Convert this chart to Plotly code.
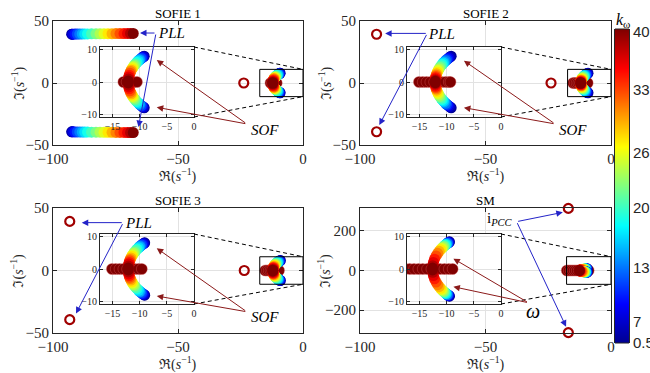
import plotly.graph_objects as go

W, H = 650, 373
SERIF = "Liberation Serif"
SANS = "Liberation Sans"
INK = "#262626"
GRID = "#e2e2e2"
RING = "#a00000"
BLUE = "#2323c8"
DRED = "#8b1a1a"

# gain k_omega for every plotted eigenvalue along a branch
K = [0.5, 2, 4, 6, 8, 10, 12, 14, 16, 18, 20, 22, 24, 26, 28, 30, 32, 34, 36, 38, 40]

# SOFIE 1 : PLL branch (upper half, lower half is the conjugate)
pll1_re = [-92.5, -92.4, -92.0, -91.2, -90.3, -89.3, -88.3, -87.3, -86.2, -84.6, -82.8,
           -81.2, -79.6, -78.0, -76.4, -74.8, -73.2, -71.6, -70.2, -69.0, -67.9]
pll1_im = [39.4, 39.4, 39.4, 39.5, 39.5, 39.5, 39.6, 39.6, 39.6, 39.7, 39.7,
           39.7, 39.8, 39.8, 39.8, 39.9, 39.9, 39.9, 40.0, 40.0, 40.0]

# SOF branches (upper half)
sof1_re = [-9.17, -9.25, -9.42, -9.57, -9.72, -9.94, -10.08, -10.27, -10.51, -10.73, -10.93,
           -11.11, -11.27, -11.42, -11.55, -11.67, -11.79, -11.92, -12.01, -12.07, -12.10]
sof1_im = [7.9, 7.8, 7.6, 7.4, 7.2, 6.9, 6.7, 6.4, 6.0, 5.6, 5.2,
           4.8, 4.4, 4.0, 3.6, 3.2, 2.7, 2.1, 1.5, 0.9, 0.3]
sof2_re = [-9.17, -9.33, -9.57, -9.80, -10.01, -10.21, -10.45, -10.62, -10.83, -11.02, -11.23,
           -11.42, -11.58, -11.72, -11.84, -11.92, -11.98, -12.03, -12.07, -12.09, -12.10]
sof2_im = [7.9, 7.7, 7.4, 7.1, 6.8, 6.5, 6.1, 5.8, 5.4, 5.0, 4.5,
           4.0, 3.5, 3.0, 2.5, 2.1, 1.7, 1.3, 0.9, 0.5, 0.2]
sof3_re = [-9.08, -9.17, -9.33, -9.50, -9.65, -9.87, -10.01, -10.21, -10.45, -10.67, -10.93,
           -11.11, -11.31, -11.45, -11.61, -11.75, -11.84, -11.93, -12.01, -12.07, -12.10]
sof3_im = [8.0, 7.9, 7.7, 7.5, 7.3, 7.0, 6.8, 6.5, 6.1, 5.7, 5.2,
           4.8, 4.3, 3.9, 3.4, 2.9, 2.5, 2.0, 1.5, 0.9, 0.3]
sof4_re = [-9.48, -9.57, -9.65, -9.73, -9.82, -9.90, -10.05, -10.12, -10.27, -10.41, -10.54,
           -10.73, -10.91, -11.13, -11.38, -11.65, -11.95, -12.24, -12.44, -12.56, -12.60]
sof4_im = [8.3, 8.2, 8.1, 8.0, 7.9, 7.8, 7.6, 7.5, 7.3, 7.1, 6.9,
           6.6, 6.3, 5.9, 5.4, 4.8, 4.0, 3.0, 2.0, 1.0, 0.3]

# real-axis eigenvalues (k_omega = 40 end of the sweep)
bar1_re = [-13.0, -12.4, -11.8, -11.1, -10.5]
bar2_re = [-15.1, -14.4, -13.7, -13.0, -12.3, -11.6, -10.9, -10.2, -9.6, -9.3]
bar3_re = [-15.1, -14.4, -13.7, -13.0, -12.3, -11.6, -10.9, -10.2, -9.6]
bar4_re = [-17.6, -16.8, -16.0, -15.2, -14.4, -13.6, -12.8, -12.0, -11.2, -10.4, -9.6, -8.9]
BAR_K = 40

# eigenvalues that do not move with k_omega (open rings)
fix1_re, fix1_im = [-23.7], [0.0]
fix2_re, fix2_im = [-23.9, -93.4, -93.4], [0.0, 39.3, -39.3]
fix3_re, fix3_im = [-23.5, -93.3, -93.3], [0.0, 39.3, -39.3]
fix4_re, fix4_im = [-17.0, -17.0], [314.0, -314.0]

titles = ["SOFIE 1", "SOFIE 2", "SOFIE 3", "SM"]

cbar_ticktext = ["0.5", "7", "13", "20", "26", "33", "40"]
cbar_tickvals = [0.5, 3.14, 9.93, 17.5, 24.4, 32.3, 39.7]

JET = [[0, "#00008f"], [0.125, "#0000ff"], [0.375, "#00ffff"],
       [0.625, "#ffff00"], [0.875, "#ff0000"], [1, "#800000"]]

panels = [
    dict(px=(53, 303, 21, 145), yr=(-50, 50), ytv=[-50, 0, 50], rect=(-17.3, 0, -11, 11),
         pll=(pll1_re, pll1_im), sof=(sof1_re, sof1_im), bar=bar1_re, fix=(fix1_re, fix1_im)),
    dict(px=(360, 611, 21, 145), yr=(-50, 50), ytv=[-50, 0, 50], rect=(-17.3, 0, -11, 11),
         pll=None, sof=(sof2_re, sof2_im), bar=bar2_re, fix=(fix2_re, fix2_im)),
    dict(px=(53, 303, 208, 333), yr=(-50, 50), ytv=[-50, 0, 50], rect=(-17.3, 0, -11, 11),
         pll=None, sof=(sof3_re, sof3_im), bar=bar3_re, fix=(fix3_re, fix3_im)),
    dict(px=(360, 611, 208, 333), yr=(-316, 316), ytv=[-200, 0, 200], rect=(-17.7, 0, -70, 70),
         pll=None, sof=(sof4_re, sof4_im), bar=bar4_re, fix=(fix4_re, fix4_im)),
]

INSET_XR = (-17.3, 0)
INSET_YR = (-10.7, 10.7)
CB_PX = (615, 629, 29, 343)


def sfx(n):
    return "" if n == 1 else str(n)


def pxx(p):
    return p / W


def pxy(p):
    return 1 - p / H


fig = go.Figure()
layout = dict(shapes=[], annotations=[])


def colored(xs, ys, ks, xa, ya, size=11, line=None):
    mk = dict(size=size, color=ks, coloraxis="coloraxis", line=line or dict(width=0))
    return go.Scatter(x=xs, y=ys, mode="markers", marker=mk, xaxis=xa, yaxis=ya,
                      showlegend=False, hoverinfo="skip")


def ptext(xp, yp, text, size, family=SERIF, color=INK, angle=0):
    return dict(xref="paper", yref="paper", x=pxx(xp), y=pxy(yp), text=text, showarrow=False,
                xanchor="center", yanchor="middle", textangle=angle,
                font=dict(family=family, size=size, color=color))


bar_line = dict(width=0.7, color="rgba(215,90,90,0.55)")

for i, P in enumerate(panels):
    m = i + 1
    n = i + 5
    xa, ya = "x" + sfx(m), "y" + sfx(m)
    xi, yi = "x" + sfx(n), "y" + sfx(n)
    x0, x1, y0, y1 = P["px"]
    sre, sim = P["sof"]
    s_x = sre + sre
    s_y = sim + [-v for v in sim]
    s_k = K + K
    b_x = P["bar"]
    b_y = [0.0] * len(b_x)
    b_k = [BAR_K] * len(b_x)

    # main axes
    if P["pll"] is not None:
        pre, pim = P["pll"]
        fig.add_trace(colored(pre + pre, pim + [-v for v in pim], K + K, xa, ya))
    fig.add_trace(colored(b_x, b_y, b_k, xa, ya, line=bar_line))
    fig.add_trace(colored(s_x, s_y, s_k, xa, ya))
    fre, fim = P["fix"]
    fig.add_trace(go.Scatter(x=fre, y=fim, mode="markers", xaxis=xa, yaxis=ya,
                             marker=dict(symbol="circle-open", size=9, color=RING, line=dict(width=2.2)),
                             cliponaxis=False, showlegend=False, hoverinfo="skip"))
    # inset axes
    fig.add_trace(colored(b_x, b_y, b_k, xi, yi, line=bar_line))
    fig.add_trace(colored(s_x, s_y, s_k, xi, yi))

    common = dict(showline=True, linecolor=INK, linewidth=1, mirror="ticks", ticks="inside",
                  tickcolor=INK, showgrid=True, gridcolor=GRID, gridwidth=1, zeroline=False,
                  fixedrange=True, automargin=False)
    layout["xaxis" + sfx(m)] = dict(domain=[pxx(x0), pxx(x1)], anchor=ya, range=[-100, 0],
                                    tickvals=[-100, -50, 0], ticklen=4,
                                    tickfont=dict(family=SERIF, size=15, color=INK), **common)
    layout["yaxis" + sfx(m)] = dict(domain=[pxy(y1), pxy(y0)], anchor=xa, range=list(P["yr"]),
                                    tickvals=P["ytv"], ticklen=4,
                                    tickfont=dict(family=SERIF, size=15, color=INK), **common)
    ix0, ix1, iy0, iy1 = x0 + 47, x0 + 141, y0 + 26, y0 + 96
    layout["xaxis" + sfx(n)] = dict(domain=[pxx(ix0), pxx(ix1)], anchor=yi, range=list(INSET_XR),
                                    tickvals=[-15, -10, -5, 0], ticklen=3,
                                    tickfont=dict(family=SERIF, size=10, color=INK), **common)
    layout["yaxis" + sfx(n)] = dict(domain=[pxy(iy1), pxy(iy0)], anchor=xi, range=list(INSET_YR),
                                    tickvals=[-10, 0, 10], ticklen=3,
                                    tickfont=dict(family=SERIF, size=10, color=INK), **common)

    # zoom rectangle on main axes
    rx0, rx1, ry0, ry1 = P["rect"]
    layout["shapes"].append(dict(type="rect", xref=xa, yref=ya, x0=rx0, x1=rx1, y0=ry0, y1=ry1,
                                 line=dict(color="black", width=1)))
    ymin, ymax = P["yr"]

    def d2p(X, Y):
        return (pxx(x0 + (X + 100) / 100 * (x1 - x0)),
                pxy(y0 + (ymax - Y) / (ymax - ymin) * (y1 - y0)))

    tr = d2p(rx1, ry1)
    br = d2p(rx1, ry0)
    layout["shapes"].append(dict(type="line", xref="paper", yref="paper", x0=pxx(ix1), y0=pxy(iy0),
                                 x1=tr[0], y1=tr[1], line=dict(color="black", width=1, dash="4px,3px")))
    layout["shapes"].append(dict(type="line", xref="paper", yref="paper", x0=pxx(ix1), y0=pxy(iy1),
                                 x1=br[0], y1=br[1], line=dict(color="black", width=1, dash="4px,3px")))

    # panel title and axis labels
    layout["annotations"].append(ptext((x0 + x1) / 2, y0 - 8, titles[i], 13, color="black"))
    layout["annotations"].append(ptext((x0 + x1) / 2, y1 + 30, "ℜ(<i>s</i><sup>−1</sup>)", 14))
    layout["annotations"].append(ptext(x0 - 35, (y0 + y1) / 2, "ℑ(<i>s</i><sup>−1</sup>)", 14, angle=-90))


def arrow(n, tail, head, color):
    xr, yr = "x" + sfx(n), "y" + sfx(n)
    return dict(xref=xr, yref=yr, axref=xr, ayref=yr, x=head[0], y=head[1], ax=tail[0], ay=tail[1],
                text="", showarrow=True, arrowhead=2, arrowsize=1.3, arrowwidth=1,
                arrowcolor=color, standoff=0, startstandoff=0)


def label(n, pos, text, size=15):
    xr, yr = "x" + sfx(n), "y" + sfx(n)
    return dict(xref=xr, yref=yr, x=pos[0], y=pos[1], text=text, showarrow=False,
                xanchor="center", yanchor="middle",
                font=dict(family=SERIF, size=size, color="black"))


ann = layout["annotations"]
# SOFIE 1
ann += [label(1, (-52.5, 40), "<i>PLL</i>"),
        arrow(1, (-58.8, 40.3), (-65.2, 40.3), BLUE), arrow(1, (-58.8, 40.3), (-65.8, -35.5), BLUE),
        label(1, (-15.2, -38), "<i>SOF</i>"),
        arrow(1, (-22.5, -33), (-58.5, 18.5), DRED), arrow(1, (-22.5, -33), (-58.5, -19.6), DRED)]
# SOFIE 2
ann += [label(2, (-67.4, 39.3), "<i>PLL</i>"),
        arrow(2, (-73.2, 40), (-90, 40), BLUE), arrow(2, (-73.2, 40), (-92.3, -33.9), BLUE),
        label(2, (-15, -38), "<i>SOF</i>"),
        arrow(2, (-22.3, -33), (-58.6, 18), DRED), arrow(2, (-22.3, -33), (-58.6, -19.9), DRED)]
# SOFIE 3
ann += [label(3, (-65.9, 38.3), "<i>PLL</i>"),
        arrow(3, (-71.9, 38.3), (-88.5, 38.3), BLUE), arrow(3, (-71.9, 38.3), (-90.8, -34.4), BLUE),
        label(3, (-15.2, -37), "<i>SOF</i>"),
        arrow(3, (-22.5, -33), (-58.5, 17.8), DRED), arrow(3, (-22.5, -33), (-58.5, -20.4), DRED)]
# SM
ann += [label(4, (-44.2, 262), "i<sub><i>PCC</i></sub>"),
        arrow(4, (-37.6, 247), (-19.2, 294), BLUE), arrow(4, (-37.6, 247), (-17.9, -284), BLUE),
        label(4, (-30.9, -205), "<i>ω</i>", size=20),
        arrow(4, (-32.9, -163), (-62.8, 60), DRED), arrow(4, (-32.9, -163), (-62.8, -82), DRED)]

# colour bar drawn as a one-column heatmap over the k_omega values
fig.add_trace(go.Heatmap(x=[0], y=K, z=[[k] for k in K], coloraxis="coloraxis", zsmooth="best",
                         xaxis="x9", yaxis="y9", hoverinfo="skip"))
cx0, cx1, cy0, cy1 = CB_PX
layout["xaxis9"] = dict(domain=[pxx(cx0), pxx(cx1)], anchor="y9", range=[-0.5, 0.5], visible=False,
                        fixedrange=True, automargin=False)
layout["yaxis9"] = dict(domain=[pxy(cy1), pxy(cy0)], anchor="x9", side="right", range=[0.5, 40],
                        tickvals=cbar_tickvals, ticktext=cbar_ticktext, ticks="", showgrid=False,
                        zeroline=False, showline=True, mirror=True, linecolor=INK, linewidth=1,
                        tickfont=dict(family=SANS, size=15, color=INK), fixedrange=True, automargin=False)
layout["shapes"].append(dict(type="line", xref="paper", yref="paper", x0=pxx(cx0), x1=pxx(cx1),
                             y0=pxy(cy0), y1=pxy(cy0), line=dict(color=INK, width=1)))
layout["shapes"].append(dict(type="line", xref="paper", yref="paper", x0=pxx(cx0), x1=pxx(cx1),
                             y0=pxy(cy1), y1=pxy(cy1), line=dict(color=INK, width=1)))
ann.append(ptext(623, 20, "<i>k</i><sub>ω</sub>", 16, color="black"))

layout["coloraxis"] = dict(cmin=0.5, cmax=40, colorscale=JET, showscale=False)

fig.update_layout(width=W, height=H, margin=dict(l=0, r=0, t=0, b=0), template="none",
                  paper_bgcolor="white", plot_bgcolor="white", showlegend=False, **layout)
fig.write_html("out.html")
